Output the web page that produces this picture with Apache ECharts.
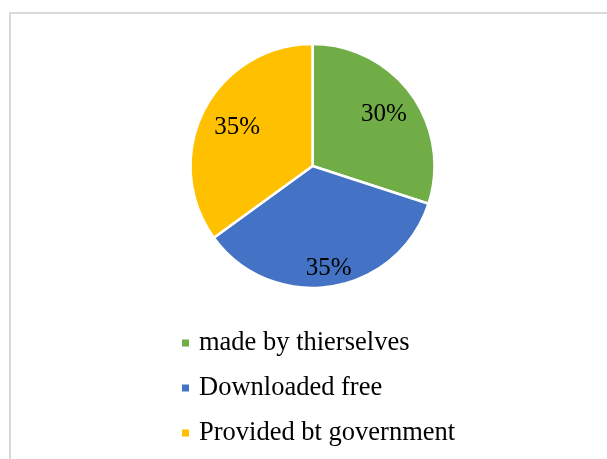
<!DOCTYPE html>
<html>
<head>
<meta charset="utf-8">
<script src="https://cdn.jsdelivr.net/npm/echarts@6/dist/echarts.min.js"></script>
<style>
html,body{margin:0;padding:0;background:#fff;}
#chart{width:607px;height:459px;}
</style>
</head>
<body>
<div id="chart"></div>
<script>
var categories = ['made by thierselves', 'Downloaded free', 'Provided bt government'];
var values = [30, 35, 35];
var colors = ['#70ad47', '#4472c4', '#ffc000'];

// label distance factors relative to ECharts' default inside position
var labelScale = [1.38, 1.62, 1.32];
var cx = 312.5, cy = 166, R = 122;

var chart = echarts.init(document.getElementById('chart'), null, {renderer: 'canvas'});
var font = '"Liberation Serif", "Times New Roman", serif';

chart.setOption({
  animation: false,
  backgroundColor: '#fff',
  graphic: [{
    type: 'rect',
    shape: {x: 10, y: 13, width: 700, height: 600},
    style: {fill: 'none', stroke: '#d9d9d9', lineWidth: 2},
    silent: true
  }],
  legend: {
    orient: 'vertical',
    left: 175,
    top: 324,
    itemWidth: 9,
    itemHeight: 9,
    itemGap: 17,
    icon: 'rect',
    data: categories,
    textStyle: {fontFamily: font, fontSize: 26.5, color: '#000', lineHeight: 28, padding: [0, 0, 0, 4]}
  },
  series: [{
    type: 'pie',
    center: [cx, cy],
    radius: R,
    startAngle: 90,
    clockwise: true,
    itemStyle: {borderColor: '#fff', borderWidth: 2.5},
    label: {
      show: true,
      position: 'inside',
      formatter: '{d}%',
      fontFamily: font,
      fontSize: 25,
      color: '#000'
    },
    labelLayout: function (params) {
      var r = params.labelRect;
      var lx = r.x + r.width / 2, ly = r.y + r.height / 2;
      var k = labelScale[params.dataIndex];
      return {dx: (lx - cx) * (k - 1), dy: (ly - cy) * (k - 1)};
    },
    emphasis: {disabled: true},
    data: categories.map(function (c, i) {
      return {name: c, value: values[i], itemStyle: {color: colors[i]}};
    })
  }]
});
</script>
</body>
</html>
